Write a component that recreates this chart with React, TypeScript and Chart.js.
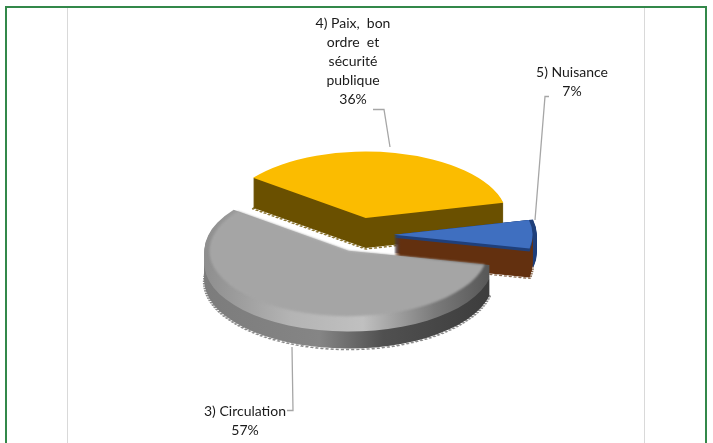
import React, { useEffect, useRef } from "react";
import { Chart, registerables } from "chart.js";

Chart.register(...registerables);

const categories = ["3) Circulation", "4) Paix, bon ordre et sécurité publique", "5) Nuisance"];
const values = [57, 36, 7];
const colors = ["#a5a5a5", "#fbbc00", "#3f6fc0"];
const labelLines = [
  ["3) Circulation", "57%"],
  ["4) Paix,  bon", "ordre  et", "sécurité", "publique", "36%"],
  ["5) Nuisance", "7%"],
];

const FONT = "Lato, 'Open Sans', sans-serif";
const CX = 365;
const CY = 235;
const SY = 0.47;

type Stop = [number, string];
const sliceStyle = [
  {
    explode: 37, dx: -1, k: 1.03, depth: 30, bevel: 13, inner: 0.965, blur: 1.2, scallop: "#8a8a8a",
    side: [[0, "#7c7c7c"], [0.4, "#858585"], [0.62, "#505050"], [1, "#3c3c3c"]] as Stop[],
    rim: [[0, "#8e8e8e"], [0.3, "#b4b4b4"], [0.55, "#c0c0c0"], [0.8, "#7a7a7a"], [1, "#555555"]] as Stop[],
  },
  {
    explode: 37, dx: -7, k: 1.01, depth: 30, bevel: 0, inner: 1, blur: 0, scallop: "#8a7430",
    side: [[0, "#6a5000"], [1, "#6a5000"]] as Stop[],
    rim: [] as Stop[],
  },
  {
    explode: 29, dx: 0, k: 0.99, depth: 29, bevel: 3, inner: 1, blur: 0, scallop: "#8a6a50",
    side: [[0, "#63300f"], [1, "#63300f"]] as Stop[],
    rim: [[0, "#1f3f7a"], [1, "#1f3f7a"]] as Stop[],
  },
];
const drawOrder = [1, 2, 0];
const NAVY_SLICE = 2;

const framePlugin = {
  id: "frame",
  beforeDraw(chart: any) {
    const ctx = chart.ctx;
    ctx.save();
    ctx.fillStyle = "#ffffff";
    ctx.fillRect(0, 0, chart.width, chart.height);
    ctx.fillStyle = "#d9d9d9";
    ctx.fillRect(67, 8, 1, 435);
    ctx.fillRect(644, 8, 1, 435);
    ctx.fillStyle = "#33884a";
    ctx.fillRect(5, 6, 702, 2);
    ctx.fillRect(5, 6, 2, 437);
    ctx.fillRect(705, 6, 2, 437);
    ctx.restore();
  },
};

const pie3dPlugin = {
  id: "pie3d",
  beforeDatasetsDraw(chart: any) {
    const ctx = chart.ctx;
    const arcs = chart.getDatasetMeta(0).data;
    const paint = (arc: any, i: number, fill: any, dy: number, scale: number, extra: any = {}) => {
      const s = sliceStyle[i];
      const mid = (arc.startAngle + arc.endAngle) / 2;
      ctx.save();
      ctx.translate(CX + s.dx + Math.cos(mid) * s.explode, CY + Math.sin(mid) * s.explode * SY + dy);
      ctx.scale(scale, scale * SY);
      ctx.translate(-arc.x, -arc.y);
      const original = arc.options;
      arc.options = { ...original, backgroundColor: fill, borderWidth: 0, ...extra };
      arc.draw(ctx);
      arc.options = original;
      ctx.restore();
    };
    const grad = (arc: any, stops: Stop[]) => {
      const g = ctx.createLinearGradient(arc.x - 140, 0, arc.x + 140, 0);
      stops.forEach(([p, c]) => g.addColorStop(p, c));
      return g;
    };
    drawOrder.forEach((i) => {
      const arc = arcs[i];
      const s = sliceStyle[i];
      const side = grad(arc, s.side);
      // scalloped lower edge
      paint(arc, i, "rgba(0,0,0,0)", s.depth + 1, s.k, {
        borderWidth: 3,
        borderColor: s.scallop,
        borderDash: [3, 2],
        borderAlign: "center",
      });
      if (i === NAVY_SLICE) {
        for (let d = 18; d >= 0; d--) paint(arc, i, "#1f3f7a", d, s.k * 1.03);
      }
      for (let d = s.depth; d > s.bevel; d--) paint(arc, i, side, d, s.k);
      if (s.bevel > 0) {
        const rim = grad(arc, s.rim);
        for (let d = s.bevel; d >= 0; d--) paint(arc, i, rim, d, s.k);
      }
      ctx.save();
      if (s.blur) ctx.filter = `blur(${s.blur}px)`;
      paint(arc, i, colors[i], 0, s.k * s.inner);
      ctx.restore();
    });
    return false;
  },
};

const labelPlugin = {
  id: "labels",
  afterDraw(chart: any) {
    const ctx = chart.ctx;
    ctx.save();
    ctx.strokeStyle = "#a6a6a6";
    ctx.lineWidth = 1.3;
    const leaders = [
      [[287, 410.5], [293, 410.5], [292, 347]],
      [[373, 109.5], [384, 109.5], [390, 147]],
      [[549, 96.5], [545, 96.5], [535, 220]],
    ];
    leaders.forEach((pts) => {
      ctx.beginPath();
      pts.forEach(([x, y], n) => (n ? ctx.lineTo(x, y) : ctx.moveTo(x, y)));
      ctx.stroke();
    });
    ctx.fillStyle = "#1a1a1a";
    ctx.font = `14px ${FONT}`;
    ctx.textAlign = "center";
    ctx.textBaseline = "middle";
    const anchors = [
      { x: 245, y: 411, gap: 19 },
      { x: 353, y: 23, gap: 19 },
      { x: 572, y: 72, gap: 19 },
    ];
    labelLines.forEach((lines, i) => {
      lines.forEach((line, n) => ctx.fillText(line, anchors[i].x, anchors[i].y + n * anchors[i].gap));
    });
    ctx.restore();
  },
};

export default function App() {
  const ref = useRef<HTMLCanvasElement>(null);
  useEffect(() => {
    const chart = new Chart(ref.current!, {
      type: "pie",
      data: {
        labels: categories,
        datasets: [{ data: values, backgroundColor: colors, borderWidth: 0 }],
      },
      options: {
        animation: false,
        responsive: false,
        radius: 140,
        rotation: 102,
        plugins: { legend: { display: false }, tooltip: { enabled: false } },
      } as any,
      plugins: [framePlugin, pie3dPlugin, labelPlugin],
    });
    return () => chart.destroy();
  }, []);
  return (
    <div style={{ position: "fixed", left: 0, top: 0 }}>
      <canvas ref={ref} width={713} height={443} style={{ display: "block" }} />
    </div>
  );
}
